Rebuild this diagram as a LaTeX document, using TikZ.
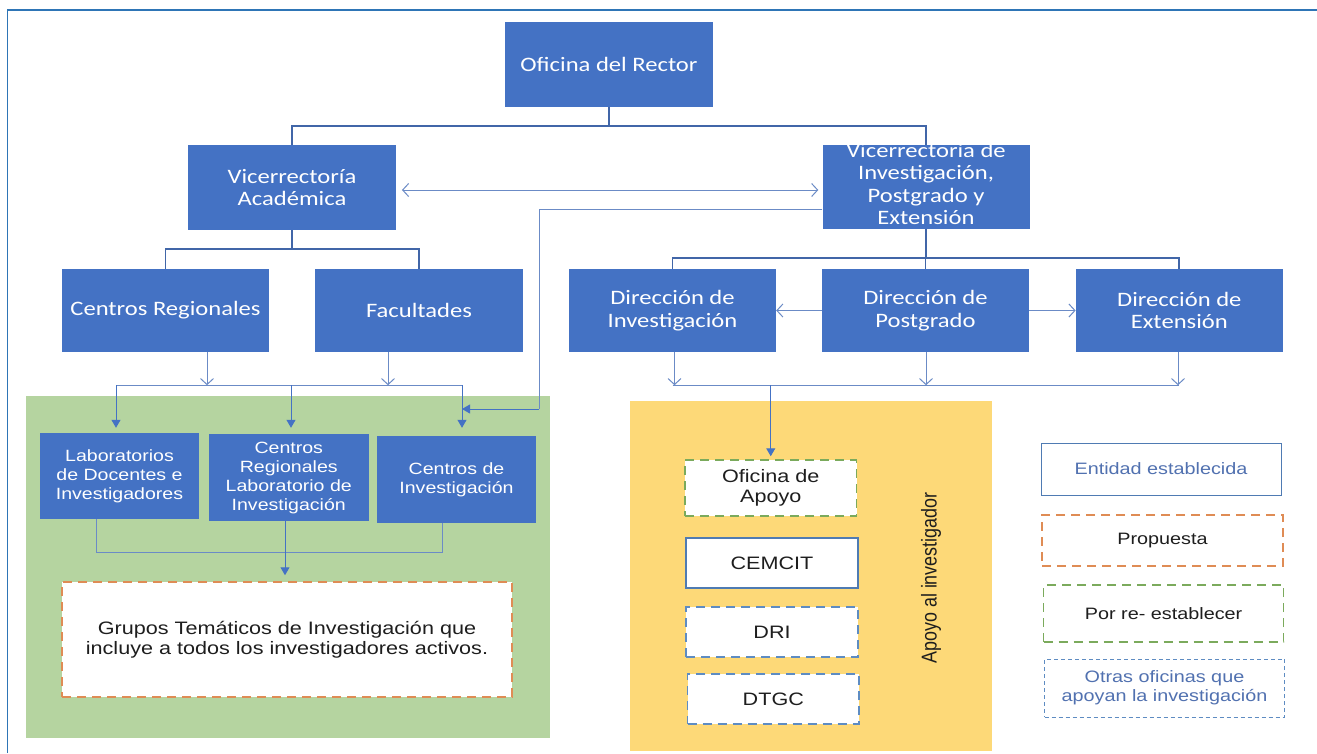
\documentclass[tikz,border=0pt]{standalone}
\usepackage{graphicx}
\usepackage{fontspec}
\setmainfont{Liberation Sans}
\newfontfamily\calw[FakeStretch=1.2]{Carlito}
\newfontfamily\arw[FakeStretch=1.2]{Liberation Sans}
\newfontfamily\arn{Liberation Sans}
\usetikzlibrary{arrows.meta,calc}

\definecolor{boxblue}{HTML}{4472C4}
\definecolor{treeline}{HTML}{4166A8}
\definecolor{thinline}{HTML}{6B8BC6}
\definecolor{framebl}{HTML}{2E75B6}
\definecolor{greenbg}{HTML}{B5D4A0}
\definecolor{yellowbg}{HTML}{FDD978}
\definecolor{orangedash}{HTML}{DF8C55}
\definecolor{greendash}{HTML}{7BAA5C}
\definecolor{bluedash}{HTML}{5E8CC2}
\definecolor{legtext}{HTML}{5171B0}
\definecolor{solidborder}{HTML}{4F7BB3}
\definecolor{txtblack}{HTML}{1E1E1E}

\begin{document}
\begin{tikzpicture}[x=1pt,y=-1pt,
  bluebox/.style={rectangle, fill=boxblue, text=white, inner sep=0pt, align=center,
    font=\calw\fontsize{20.5}{22.5}\selectfont},
  bluetext/.style={inner sep=0pt, align=center, text=white,
    font=\calw\fontsize{20.5}{22.3}\selectfont},
  greenbox/.style={rectangle, fill=boxblue, text=white, inner sep=0pt, align=center,
    font=\arw\fontsize{16.3}{19}\selectfont},
  whitebox/.style={rectangle, fill=white, inner sep=0pt, align=center, text=txtblack,
    font=\arw\fontsize{18}{20.5}\selectfont},
  legbox/.style={rectangle, fill=white, inner sep=0pt, align=center, text=txtblack,
    font=\arw\fontsize{16.5}{19}\selectfont},
  orangebox/.style={draw=orangedash, line width=1.5pt, dash pattern=on 9pt off 6pt},
  greenbd/.style={draw=greendash, line width=1.5pt, dash pattern=on 9pt off 6pt},
  bluebd/.style={draw=bluedash, line width=1.5pt, dash pattern=on 9pt off 6pt},
  treeconn/.style={draw=treeline, line width=1.8pt},
  thinconn/.style={draw=thinline, line width=1pt},
  openarr/.style={-{Straight Barb[length=6pt,width=13pt]}},
  fillarr/.style={-{Triangle[length=8pt,width=9pt]}, draw=boxblue, line width=1pt}
]
\useasboundingbox (0,0) rectangle (1317,753);
\fill[white] (0,0) rectangle (1317,753);

% outer frame (top and left edges visible)
\draw[framebl, line width=1.5pt] (7.5,753) -- (7.5,10) -- (1317,10);

% coloured regions
\fill[greenbg] (26,396) rectangle (550,738);
\fill[yellowbg] (630,401) rectangle (992,751);

% top levels
\node[bluebox, minimum width=208pt, minimum height=85pt] (rector) at (609,64.5) {Oficina del Rector};
\node[bluebox, minimum width=207.5pt, minimum height=85pt] (va) at (292,187.5) {Vicerrector\'{\i}a\\Acad\'emica};
\node[bluebox, minimum width=207pt, minimum height=84pt] (vipe) at (926,187) {};
\node[bluetext] (vipetxt) at (926,184) {Vicerrector\'{\i}a de\\Investigaci\'on,\\Postgrado y\\Extensi\'on};

\node[bluebox, minimum width=207pt, minimum height=83pt] (cr) at (165.5,310.5) {Centros Regionales};
\node[bluebox, minimum width=208pt, minimum height=83pt] (fac) at (419,310.5) {Facultades};
\node[bluebox, minimum width=207pt, minimum height=83pt] (di) at (672.5,310.5) {Direcci\'on de\\Investigaci\'on};
\node[bluebox, minimum width=207pt, minimum height=83pt] (dp) at (925.5,310.5) {Direcci\'on de\\Postgrado};
\node[bluebox, minimum width=207pt, minimum height=83pt] (de) at (1179.3,310.5) {Direcci\'on de\\Extensi\'on};

% green region boxes
\node[greenbox, minimum width=159pt, minimum height=86pt] (ldi) at (119.5,476) {Laboratorios\\de Docentes e\\Investigadores};
\node[greenbox, minimum width=159.5pt, minimum height=87pt] (crli) at (288.75,477.5) {Centros\\Regionales\\Laboratorio de\\Investigaci\'on};
\node[greenbox, minimum width=159pt, minimum height=87pt] (cinv) at (456.5,479.5) {Centros de\\Investigaci\'on};
\node[whitebox, orangebox, minimum width=450pt, minimum height=115pt] (grupos) at (287,639.5) {Grupos Tem\'aticos de Investigaci\'on que\\incluye a todos los investigadores activos.};

% yellow region boxes
\node[whitebox, greenbd, minimum width=171.5pt, minimum height=56pt] (ofa) at (770.75,488) {Oficina de\\Apoyo};
\node[whitebox, draw=solidborder, line width=1.5pt, minimum width=172pt, minimum height=50pt] (cemcit) at (772,563) {CEMCIT};
\node[whitebox, bluebd, minimum width=172pt, minimum height=50pt] (dri) at (772,632) {DRI};
\node[whitebox, bluebd, minimum width=171.4pt, minimum height=50pt] (dtgc) at (773.3,699) {DTGC};
\node[rotate=90, inner sep=0pt, text=txtblack, font=\arn\fontsize{17.9}{20}\selectfont] (apoyo) at (931,578) {\scalebox{1}[1.2]{Apoyo al investigador}};

% legend
\node[legbox, draw=solidborder, line width=1pt, text=legtext, minimum width=240pt, minimum height=52pt] (ent) at (1161,469) {Entidad establecida};
\node[legbox, orangebox, minimum width=241pt, minimum height=51pt] (prop) at (1162.5,540.5) {Propuesta};
\node[legbox, greenbd, minimum width=240pt, minimum height=57pt] (por) at (1163.6,613.5) {Por re- establecer};
\node[legbox, draw=bluedash, line width=1pt, dash pattern=on 4pt off 3pt, text=legtext, minimum width=240pt, minimum height=58pt] (otras) at (1164.5,688) {Otras oficinas que\\apoyan la investigaci\'on};

% tree connectors
\draw[treeconn] (rector.south) -- ++(0,19) -| (va.north);
\draw[treeconn] (rector.south) -- ++(0,19) -| (vipe.north);
\draw[treeconn] (va.south) -- ++(0,19) -| (cr.north);
\draw[treeconn] (va.south) -- ++(0,19) -| (fac.north);
\draw[treeconn] (vipe.south) -- ++(0,29) -| (di.north);
\draw[treeconn] (vipe.south) -- ++(0,29) -| (dp.north);
\draw[treeconn] (vipe.south) -- ++(0,29) -| (de.north);

% VA <-> VIPE
\draw[thinconn, {Straight Barb[length=6pt,width=13pt]}-{Straight Barb[length=6pt,width=13pt]}, shorten <=6pt, shorten >=4pt]
  ($(va.east)+(0,2.5)$) -- ($(vipe.west)+(0,3)$);

% left bus
\coordinate (busL) at (116,385);
\coordinate (busM) at (291,385);
\coordinate (busR) at (462,385);
\coordinate (bendA) at (539,209);
\coordinate (bendB) at (539,409);
\coordinate (ciJoin) at (462,409);
\draw[thinconn, openarr] ($(cr.south)+(41.5,0)$) -- ++(0,33);
\draw[thinconn, openarr] ($(fac.south)+(-31,0)$) -- ++(0,33);
\draw[thinconn] (busL) -- (busR);
\draw[fillarr, shorten >=5pt] (busL) -- (busL |- ldi.north);
\draw[fillarr, shorten >=6pt] (busM) -- (busM |- crli.north);
\draw[fillarr, shorten >=8pt] (busR) -- (busR |- cinv.north);
\draw[thinconn] ($(vipe.west)+(0,22)$) -- (bendA) -- (bendB);
\draw[fillarr] (bendB) -- (ciJoin);

% lower green connectors
\draw[thinconn] ($(ldi.south)+(-23.5,0)$) |- ($(cinv.south)+(-14.5,29)$) -- ($(cinv.south)+(-14.5,0)$);
\draw[fillarr, shorten >=6pt] ($(crli.south)+(-3.75,0)$) -- ($(grupos.north)+(-2,0)$);

% direcciones connectors
\draw[thinconn, openarr] (dp.west) -- (di.east);
\draw[thinconn, openarr] (dp.east) -- (de.west);
\coordinate (busD1) at (672.5,385);
\coordinate (busD2) at (1179,385);
\draw[thinconn, openarr] ($(di.south)+(2,0)$) -- ++(0,33);
\draw[thinconn, openarr] ($(dp.south)+(0.5,0)$) -- ++(0,33);
\draw[thinconn, openarr] ($(de.south)+(-1.3,0)$) -- ++(0,33);
\draw[thinconn] (busD1) -- (busD2);
\coordinate (busOfa) at (ofa.north |- busD1);
\draw[fillarr, shorten >=3pt] (busOfa) -- (ofa.north);
\end{tikzpicture}
\end{document}
